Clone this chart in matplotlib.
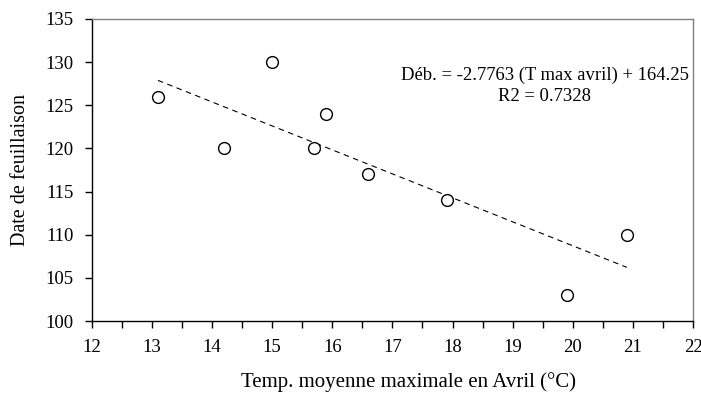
import matplotlib
matplotlib.use("Agg")
import matplotlib.pyplot as plt
import numpy as np
from matplotlib.ticker import MultipleLocator

plt.rcParams['font.family'] = ['Liberation Serif', 'DejaVu Serif']

temp = [13.1, 14.2, 15.0, 15.7, 15.9, 16.6, 17.9, 19.9, 20.9]
date = [126, 120, 130, 120, 124, 117, 114, 103, 110]
slope = -2.7763
intercept = 164.25

fig = plt.figure(figsize=(7.01, 3.94), dpi=100)
ax = fig.add_axes([0.131, 0.185, 0.8576, 0.767])

xl = np.array([min(temp), max(temp)])
ax.plot(xl, slope * xl + intercept, color='black', lw=0.8, ls=(0, (5, 4)))
ax.plot(temp, date, 'o', mfc='white', mec='black', ms=8.5, mew=1.0, ls='none')

ax.set_xlim(12, 22)
ax.set_ylim(100, 135)
ax.xaxis.set_major_locator(MultipleLocator(1))
ax.xaxis.set_minor_locator(MultipleLocator(0.5))
ax.yaxis.set_major_locator(MultipleLocator(5))
ax.tick_params(axis='both', which='major', direction='out', length=5, width=1, labelsize=13.5, pad=8)
ax.tick_params(axis='x', which='minor', direction='out', length=5, width=1)
for s in ['top', 'right']:
    ax.spines[s].set_color('#808080')
    ax.spines[s].set_linewidth(1)
for s in ['left', 'bottom']:
    ax.spines[s].set_color('black')
    ax.spines[s].set_linewidth(1)

ax.set_xlabel('Temp. moyenne maximale en Avril (°C)', fontsize=15, labelpad=9)
ax.xaxis.set_label_coords(0.526, -0.17)
ax.set_ylabel('Date de feuillaison', fontsize=14.5, labelpad=11)

ax.text(0.753, 0.78, 'Déb. = -2.7763 (T max avril) + 164.25\nR2 = 0.7328',
        transform=ax.transAxes, ha='center', va='center', multialignment='center',
        fontsize=13.4, linespacing=1.3)

fig.savefig('out.png', dpi=100)
